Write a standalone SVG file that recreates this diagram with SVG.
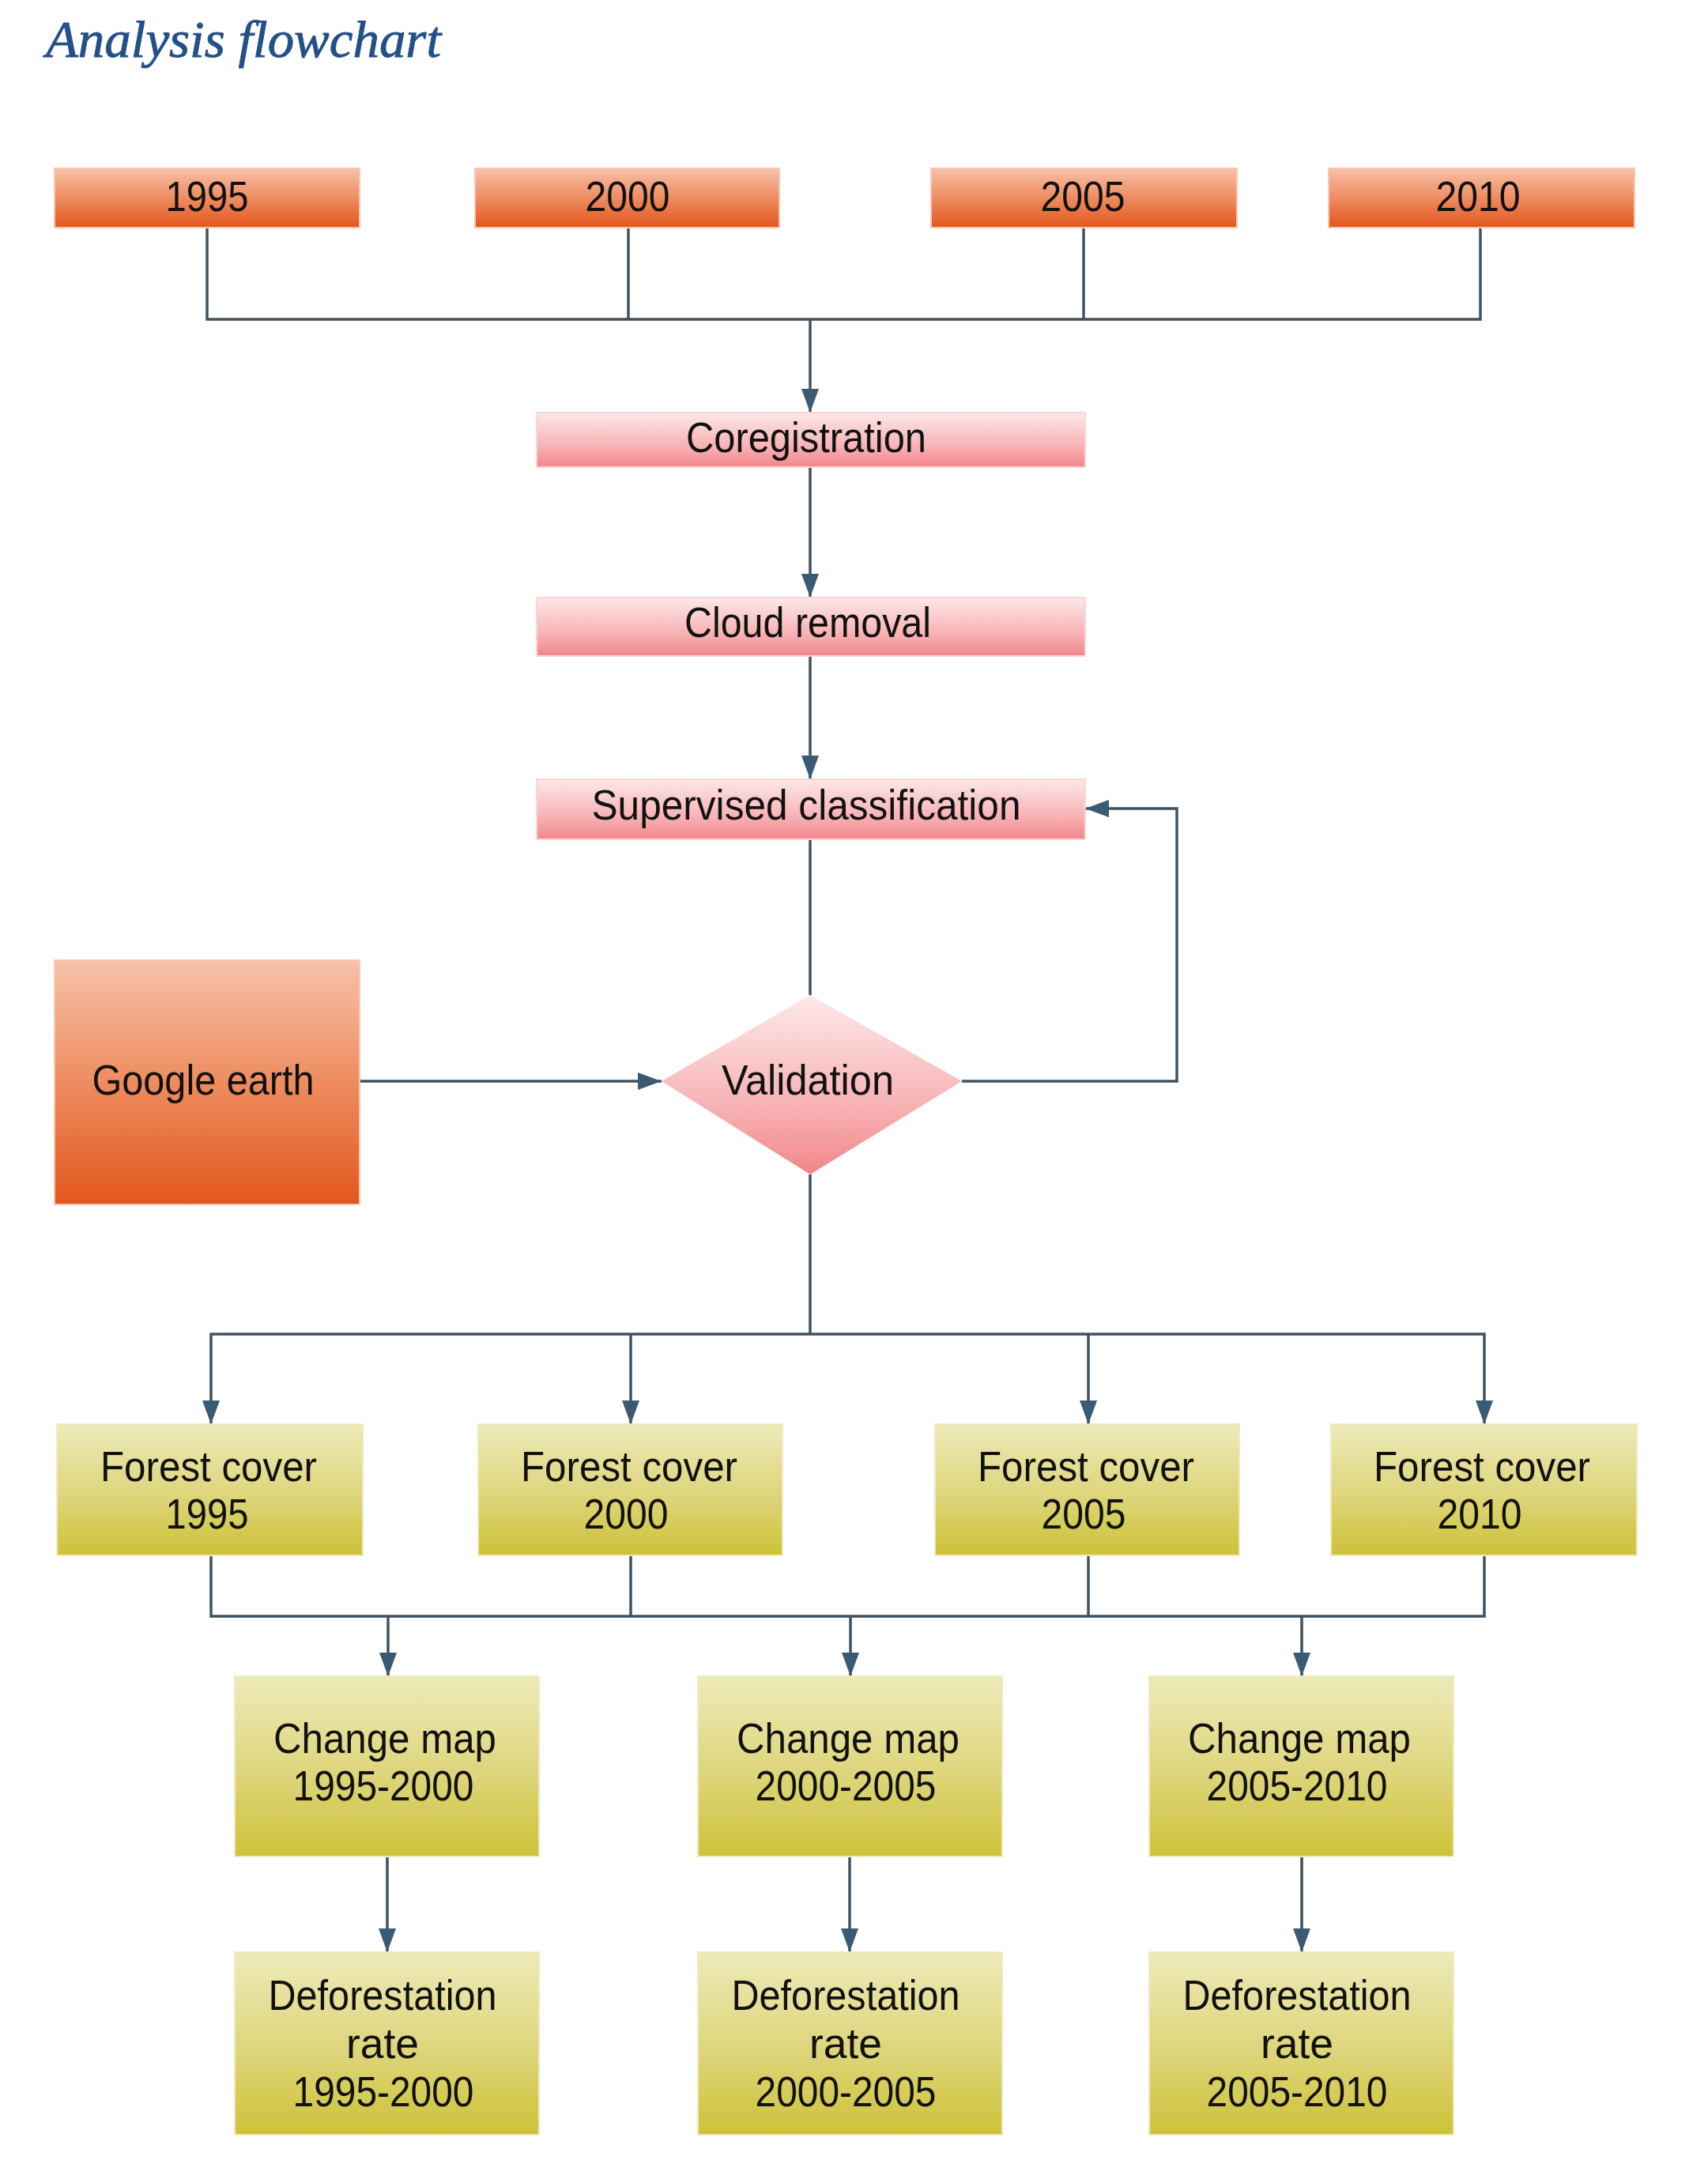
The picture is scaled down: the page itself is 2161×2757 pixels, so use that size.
<svg xmlns="http://www.w3.org/2000/svg" width="2161" height="2757" viewBox="0 0 2161 2757">
<style>
.t{font-family:"Liberation Sans",Arial,sans-serif;font-size:54px;fill:#111;text-anchor:middle}
.title{font-family:"Liberation Serif","Times New Roman",serif;font-style:italic;font-size:66px;fill:#24508a;stroke:#24508a;stroke-width:0.9}
.c{fill:none;stroke:#3f5262;stroke-width:3.5}
.a{marker-end:url(#arr)}
.or{fill:url(#gOr);stroke:#f7c9b5;stroke-width:2}
.pk{fill:url(#gPk);stroke:#fbd6d6;stroke-width:2}
.yl{fill:url(#gYl);stroke:#efeac0;stroke-width:2}
</style>
<defs>
<linearGradient id="gOr" x1="0" y1="0" x2="0" y2="1">
<stop offset="0" stop-color="#f7c1a8"/><stop offset="0.5" stop-color="#ee8c60"/><stop offset="1" stop-color="#e2561c"/>
</linearGradient>
<linearGradient id="gPk" x1="0" y1="0" x2="0" y2="1">
<stop offset="0" stop-color="#fde8e8"/><stop offset="0.6" stop-color="#f8b4b6"/><stop offset="1" stop-color="#f2868b"/>
</linearGradient>
<linearGradient id="gYl" x1="0" y1="0" x2="0" y2="1">
<stop offset="0" stop-color="#eeeab8"/><stop offset="0.55" stop-color="#ddd57a"/><stop offset="1" stop-color="#cdc237"/>
</linearGradient>
<marker id="arr" viewBox="0 0 30 22" refX="30" refY="11" markerWidth="30" markerHeight="22" markerUnits="userSpaceOnUse" orient="auto">
<path d="M0,0 L30,11 L0,22 z" fill="#3b5a73"/>
</marker>
</defs>
<rect width="2161" height="2757" fill="#ffffff"/>
<text class="title" x="58" y="72" textLength="500" lengthAdjust="spacingAndGlyphs">Analysis flowchart</text>

<g id="connectors">
<path class="c" d="M262,288 V404 H1873 V288"/>
<path class="c" d="M795,288 V404"/>
<path class="c" d="M1371,288 V404"/>
<path class="c a" d="M1025,404 V522"/>
<path class="c a" d="M1025,591 V756"/>
<path class="c a" d="M1025,830 V986"/>
<path class="c" d="M1025,1062 V1259"/>
<path class="c a" d="M455,1368 H837"/>
<path class="c a" d="M1217,1368 H1489 V1023 H1373"/>
<path class="c" d="M1025,1486 V1688"/>
<path class="c a" d="M1025,1688 H267 V1802"/>
<path class="c a" d="M1025,1688 H1878 V1802"/>
<path class="c a" d="M798,1688 V1802"/>
<path class="c a" d="M1377,1688 V1802"/>
<path class="c" d="M267,1968 V2045 H1878 V1968"/>
<path class="c" d="M798,1968 V2045"/>
<path class="c" d="M1377,1968 V2045"/>
<path class="c a" d="M491,2045 V2121"/>
<path class="c a" d="M1076,2045 V2121"/>
<path class="c a" d="M1647,2045 V2121"/>
<path class="c a" d="M490,2349 V2470"/>
<path class="c a" d="M1075,2349 V2470"/>
<path class="c a" d="M1647,2349 V2470"/>
</g>

<g id="y1995"><rect class="or" x="69" y="213" width="386" height="75"/><text class="t" x="262" y="267" textLength="105" lengthAdjust="spacingAndGlyphs">1995</text></g>
<g id="y2000"><rect class="or" x="601" y="213" width="385" height="75"/><text class="t" x="794" y="267" textLength="107" lengthAdjust="spacingAndGlyphs">2000</text></g>
<g id="y2005"><rect class="or" x="1178" y="213" width="387" height="75"/><text class="t" x="1370" y="267" textLength="107" lengthAdjust="spacingAndGlyphs">2005</text></g>
<g id="y2010"><rect class="or" x="1681" y="213" width="387" height="75"/><text class="t" x="1870" y="267" textLength="107" lengthAdjust="spacingAndGlyphs">2010</text></g>

<g id="coreg"><rect class="pk" x="679" y="522" width="694" height="69"/><text class="t" x="1020" y="572" textLength="304" lengthAdjust="spacingAndGlyphs">Coregistration</text></g>
<g id="cloud"><rect class="pk" x="679" y="756" width="694" height="74"/><text class="t" x="1022" y="806" textLength="312" lengthAdjust="spacingAndGlyphs">Cloud removal</text></g>
<g id="superv"><rect class="pk" x="679" y="986" width="694" height="76"/><text class="t" x="1020" y="1037" textLength="543" lengthAdjust="spacingAndGlyphs">Supervised classification</text></g>

<g id="google"><rect class="or" x="69" y="1215" width="386" height="309"/><text class="t" x="257" y="1385" textLength="281" lengthAdjust="spacingAndGlyphs">Google earth</text></g>
<g id="valid"><polygon points="1025,1259 1217,1368 1025,1486 837,1368" fill="url(#gPk)"/><text class="t" x="1022" y="1385" textLength="218" lengthAdjust="spacingAndGlyphs">Validation</text></g>

<g id="fc1995"><rect class="yl" x="72" y="1802" width="387" height="166"/><text class="t" x="264" y="1874" textLength="274" lengthAdjust="spacingAndGlyphs">Forest cover</text><text class="t" x="262" y="1934" textLength="105" lengthAdjust="spacingAndGlyphs">1995</text></g>
<g id="fc2000"><rect class="yl" x="605" y="1802" width="385" height="166"/><text class="t" x="796" y="1874" textLength="274" lengthAdjust="spacingAndGlyphs">Forest cover</text><text class="t" x="792" y="1934" textLength="107" lengthAdjust="spacingAndGlyphs">2000</text></g>
<g id="fc2005"><rect class="yl" x="1183" y="1802" width="385" height="166"/><text class="t" x="1374" y="1874" textLength="274" lengthAdjust="spacingAndGlyphs">Forest cover</text><text class="t" x="1371" y="1934" textLength="107" lengthAdjust="spacingAndGlyphs">2005</text></g>
<g id="fc2010"><rect class="yl" x="1684" y="1802" width="387" height="166"/><text class="t" x="1875" y="1874" textLength="274" lengthAdjust="spacingAndGlyphs">Forest cover</text><text class="t" x="1872" y="1934" textLength="107" lengthAdjust="spacingAndGlyphs">2010</text></g>

<g id="cm1"><rect class="yl" x="297" y="2121" width="385" height="228"/><text class="t" x="487" y="2218" textLength="282" lengthAdjust="spacingAndGlyphs">Change map</text><text class="t" x="485" y="2278" textLength="229" lengthAdjust="spacingAndGlyphs">1995-2000</text></g>
<g id="cm2"><rect class="yl" x="883" y="2121" width="385" height="228"/><text class="t" x="1073" y="2218" textLength="282" lengthAdjust="spacingAndGlyphs">Change map</text><text class="t" x="1070" y="2278" textLength="229" lengthAdjust="spacingAndGlyphs">2000-2005</text></g>
<g id="cm3"><rect class="yl" x="1454" y="2121" width="385" height="228"/><text class="t" x="1644" y="2218" textLength="282" lengthAdjust="spacingAndGlyphs">Change map</text><text class="t" x="1641" y="2278" textLength="229" lengthAdjust="spacingAndGlyphs">2005-2010</text></g>

<g id="dr1"><rect class="yl" x="297" y="2470" width="385" height="231"/><text class="t" x="484" y="2543" textLength="289" lengthAdjust="spacingAndGlyphs">Deforestation</text><text class="t" x="484" y="2604" textLength="92" lengthAdjust="spacingAndGlyphs">rate</text><text class="t" x="485" y="2665" textLength="229" lengthAdjust="spacingAndGlyphs">1995-2000</text></g>
<g id="dr2"><rect class="yl" x="883" y="2470" width="385" height="231"/><text class="t" x="1070" y="2543" textLength="289" lengthAdjust="spacingAndGlyphs">Deforestation</text><text class="t" x="1070" y="2604" textLength="92" lengthAdjust="spacingAndGlyphs">rate</text><text class="t" x="1070" y="2665" textLength="229" lengthAdjust="spacingAndGlyphs">2000-2005</text></g>
<g id="dr3"><rect class="yl" x="1454" y="2470" width="385" height="231"/><text class="t" x="1641" y="2543" textLength="289" lengthAdjust="spacingAndGlyphs">Deforestation</text><text class="t" x="1641" y="2604" textLength="92" lengthAdjust="spacingAndGlyphs">rate</text><text class="t" x="1641" y="2665" textLength="229" lengthAdjust="spacingAndGlyphs">2005-2010</text></g>
</svg>
